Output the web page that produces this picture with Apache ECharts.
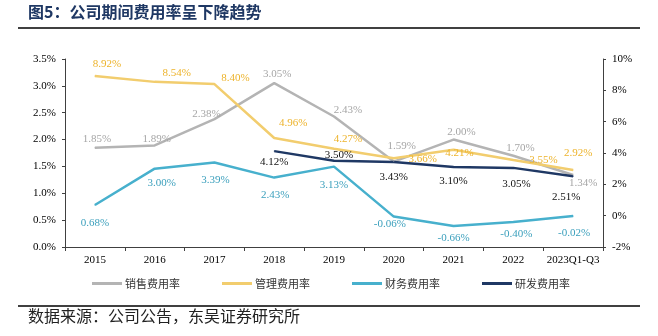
<!DOCTYPE html>
<html><head><meta charset="utf-8">
<script src="https://cdn.jsdelivr.net/npm/echarts@6/dist/echarts.min.js"></script>
<style>html,body{margin:0;padding:0;background:#fff}#c{width:658px;height:336px}</style>
</head><body><div id="c"></div>
<script>
var categories = ['2015','2016','2017','2018','2019','2020','2021','2022','2023Q1-Q3'];
var salesRate = [1.85, 1.89, 2.38, 3.05, 2.43, 1.59, 2.00, 1.70, 1.34];
var adminRate = [8.92, 8.54, 8.40, 4.96, 4.27, 3.66, 4.21, 3.55, 2.92];
var financeRate = [0.68, 3.00, 3.39, 2.43, 3.13, -0.06, -0.66, -0.40, -0.02];
var rdRate = [null, null, null, 4.12, 3.50, 3.43, 3.10, 3.05, 2.51];
var leftTicks = [0, 0.5, 1.0, 1.5, 2.0, 2.5, 3.0, 3.5];
var rightTicks = [-2, 0, 2, 4, 6, 8, 10];
var seriesNames = ['销售费用率', '管理费用率', '财务费用率', '研发费用率'];

// label offsets (label layout only)
var salesOff = [[2,-9],[2,-6],[-8,-5],[3,-9],[14,-6],[8,-15],[8,-7],[7,-8],[10,8]];
var adminOff = [[12,-12],[22,-9],[21,-6],[19,-15],[14,-10],[29,1],[6,3],[30,0],[5,-17]];
var finOff = [[0,18],[7,14],[1,18],[1,18],[0,18],[-4,8],[0,12],[3,12],[1,17]];
var rdOff = [null,null,null,[0,11],[5,-6],[0,15],[0,14],[3,16],[-7,21]];

var serif = '"Liberation Serif","Times New Roman",serif';
var cjk = '"Noto Sans CJK SC","Noto Sans",sans-serif';

function mk(vals, offs, labelColor) {
  return vals.map(function (v, i) {
    if (v === null) return null;
    return {
      value: v,
      label: { show: true, position: 'inside', offset: offs[i], color: labelColor,
        fontFamily: serif, fontSize: 11, formatter: function (p) { return p.value.toFixed(2) + '%'; } }
    };
  });
}

var chart = echarts.init(document.getElementById('c'));
var axisColor = '#404040';
function line(idx, axis, vals, offs, color, labelColor) {
  return { name: seriesNames[idx], type: 'line', yAxisIndex: axis, data: mk(vals, offs, labelColor),
    symbol: 'circle', symbolSize: 1, showSymbol: true, itemStyle: { color: color },
    lineStyle: { width: 2.5, color: color }, emphasis: { disabled: true } };
}
chart.setOption({
  animation: false,
  grid: { left: 65, right: 55, top: 59, bottom: 89 },
  legend: {
    left: 87, top: 273, itemWidth: 30, itemHeight: 3, itemGap: 42, icon: 'rect',
    textStyle: { fontFamily: cjk, fontSize: 11, color: '#333', padding: [0, 0, 0, -2] },
    data: seriesNames
  },
  xAxis: {
    type: 'category', data: categories, boundaryGap: true,
    axisLine: { lineStyle: { color: axisColor } },
    axisTick: { show: true, length: 4, lineStyle: { color: axisColor } },
    axisLabel: { fontFamily: serif, fontSize: 11, color: '#000', margin: 8, interval: 0 }
  },
  yAxis: [{
    type: 'value', min: 0, max: 3.5, interval: 0.5,
    axisLine: { show: true, lineStyle: { color: axisColor } },
    axisTick: { show: true, length: 3, lineStyle: { color: axisColor } },
    splitLine: { show: false },
    axisLabel: { fontFamily: serif, fontSize: 11, color: '#000', margin: 9,
      formatter: function (v) { return v.toFixed(1) + '%'; } }
  }, {
    type: 'value', min: -2, max: 10, interval: 2, position: 'right',
    axisLine: { show: true, lineStyle: { color: axisColor } },
    axisTick: { show: true, length: 3, lineStyle: { color: axisColor } },
    splitLine: { show: false },
    axisLabel: { fontFamily: serif, fontSize: 11, color: '#000', margin: 9,
      formatter: function (v) { return v + '%'; } }
  }],
  series: [
    line(0, 0, salesRate, salesOff, '#B4B4B4', '#A6A6A6'),
    line(1, 1, adminRate, adminOff, '#F2CD6E', '#EDB32B'),
    line(2, 1, financeRate, finOff, '#47B0CD', '#3A9FBC'),
    line(3, 1, rdRate, rdOff, '#1F3864', '#111111')
  ],
  graphic: [
    { type: 'text', left: 28, top: 4, style: { text: '图5：公司期间费用率呈下降趋势', font: 'bold 16px ' + cjk, fill: '#1F3864' } },
    { type: 'line', shape: { x1: 18, y1: 28, x2: 640, y2: 28 }, style: { stroke: '#000', lineWidth: 1.5 } },
    { type: 'line', shape: { x1: 18, y1: 306, x2: 640, y2: 306 }, style: { stroke: '#000', lineWidth: 1.5 } },
    { type: 'text', left: 28, top: 308, style: { text: '数据来源：公司公告，东吴证券研究所', font: '16px ' + cjk, fill: '#222' } }
  ]
});
</script></body></html>
